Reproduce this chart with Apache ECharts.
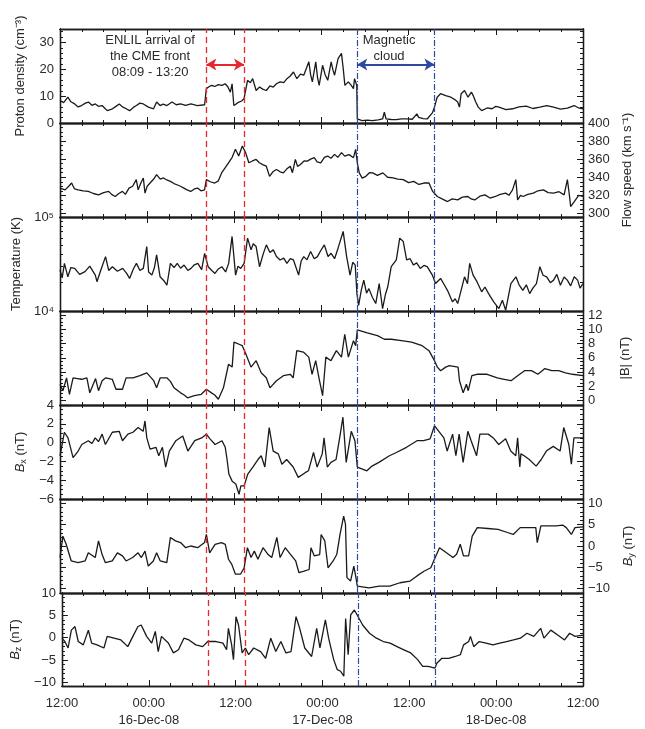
<!DOCTYPE html>
<html>
<head>
<meta charset="utf-8">
<script src="https://cdn.jsdelivr.net/npm/echarts@6/dist/echarts.min.js"></script>
<style>
  html, body { margin: 0; background: #fff; }
  #chart { width: 645px; height: 729px; }
</style>
</head>
<body>
<div id="chart"></div>
<script>
// time in hours since 15-Dec-08 12:00
const timeLabels = ['12:00', '00:00', '12:00', '00:00', '12:00', '00:00', '12:00'];
const dateLabels = ['', '16-Dec-08', '', '17-Dec-08', '', '18-Dec-08', ''];

// ENLIL CME front (08:09, 13:20 on 16-Dec) and magnetic cloud bounds
const enlilTimes = [20.15, 25.33];
const cloudTimes = [40.93, 51.55];

const density = [
  [0, 8.4], [0.5, 7.6], [1.08, 9.6], [1.5, 7.9], [2.02, 7.1], [2.5, 6.0], [2.97, 6.5], [3.5, 7.4], [3.91, 7.8],
  [4.4, 6.6], [4.86, 7.1], [5.3, 6.2], [5.8, 6.5], [6.2, 5.4], [6.51, 4.6], [7.22, 5.3], [7.7, 6.2], [8.16, 7.1],
  [8.6, 6.0], [9.11, 5.3], [9.58, 4.6], [10.1, 5.8], [10.52, 6.5], [11.0, 7.4], [11.47, 7.1], [12.17, 5.9],
  [12.88, 5.3], [13.3, 7.8], [13.78, 6.5], [14.2, 7.0], [14.72, 6.5], [15.43, 7.8], [16.0, 6.8], [16.61, 7.1],
  [17.3, 6.6], [18.03, 7.1], [18.9, 6.5], [19.91, 6.8], [20.15, 12.8], [20.5, 13.5], [20.86, 14], [21.3, 13.6],
  [21.8, 14.3], [22.3, 14.0], [22.75, 14.6], [23.1, 13.5], [23.45, 11.5], [23.69, 14.6], [23.93, 6.5], [24.3, 7.2],
  [24.64, 7.8], [25.0, 8.2], [25.33, 9.0], [25.82, 15.9], [26.2, 15.0], [26.52, 16.5], [27.0, 12.1], [27.47, 13.4],
  [27.9, 12.6], [28.41, 12.1], [28.9, 13.8], [29.36, 13.4], [29.8, 14.6], [30.3, 15.3], [30.8, 15.0], [31.24, 16.5],
  [31.7, 17.5], [32.14, 19], [32.61, 16.5], [33.1, 18.2], [33.56, 17.8], [34.26, 22.8], [34.5, 18.0], [34.74, 15.3],
  [35.21, 22.8], [35.45, 17.0], [35.68, 14], [36.15, 21.5], [36.5, 18.0], [36.86, 15.9], [37.33, 22.8], [37.6, 19.5],
  [37.8, 17.8], [38.28, 24], [38.75, 25.9], [39.0, 20.0], [39.22, 14], [39.69, 15.3], [40.1, 14.0], [40.4, 12.8],
  [40.55, 16.5], [40.85, 14], [40.93, 1.5], [41.58, 0.9], [42.3, 1.1], [43.0, 0.9], [43.8, 1.2], [44.41, 1.5],
  [44.65, 4], [44.89, 1.5], [45.6, 1.3], [46.3, 1.25], [47.0, 1.5], [47.72, 1.5], [48.5, 1.4], [49.13, 3.4],
  [49.37, 2.1], [50.0, 1.6], [50.55, 1.5], [51.26, 3.75], [51.55, 5.9], [51.92, 9.6], [52.39, 10.9], [53.1, 10.2],
  [53.81, 9.6], [54.3, 8.8], [54.75, 7.8], [54.99, 5.9], [55.22, 10.9], [55.69, 12.1], [56.17, 9.6], [56.64, 11.5],
  [56.87, 10.3], [57.2, 8.0], [57.58, 5.9], [58.05, 4.6], [58.8, 5.6], [59.47, 5.3], [60.0, 6.2], [60.42, 5.9],
  [61.4, 5.0], [62.3, 5.3], [63.2, 6.0], [64.19, 6.3], [65.1, 5.4], [66.06, 5.9], [67.0, 6.5], [67.95, 5.9],
  [68.9, 5.2], [69.84, 5.5], [70.79, 6.5], [71.4, 5.6], [72, 5.3]
];

const flowSpeed = [
  [0, 328], [0.7, 326], [1.2, 330], [1.6, 333.6], [2.0, 327], [2.5, 326], [3.2, 325], [3.9, 324.3], [4.6, 322],
  [5.3, 320.5], [6.0, 323], [6.7, 324.3], [7.1, 321], [7.6, 318.7], [8.1, 322], [8.6, 324.3], [9.0, 321], [9.5, 328],
  [10.0, 330], [10.5, 337.3], [10.76, 326], [11.1, 333], [11.47, 339.2], [11.7, 322.4], [12.0, 330], [12.4, 333.6],
  [12.9, 338], [13.3, 342.9], [13.8, 338], [14.25, 339.2], [14.7, 337], [15.2, 335.4], [15.7, 333], [16.1, 331.7],
  [16.6, 330], [17.05, 328], [17.5, 326], [18.0, 324.3], [18.5, 327], [18.95, 328], [19.4, 325], [19.9, 326],
  [20.15, 337.3], [20.7, 335], [21.3, 333.6], [21.8, 336], [22.25, 344.8], [22.7, 350], [23.2, 356], [23.7, 362],
  [24.15, 370.9], [24.6, 363.4], [25.1, 374.6], [25.55, 367.2], [26.0, 356], [26.5, 358], [27.0, 359.7], [27.45, 356],
  [27.9, 354], [28.4, 352.2], [28.85, 341], [29.3, 346], [29.8, 348.5], [30.3, 346], [30.75, 344.8], [31.2, 349],
  [31.7, 352.2], [32.0, 345], [32.4, 359.7], [32.7, 352], [33.1, 354.1], [33.6, 358], [34.05, 357.8], [34.5, 360],
  [35.0, 361.6], [35.4, 357], [35.9, 356], [36.4, 362], [36.85, 363.4], [37.3, 361], [37.8, 365.3], [38.25, 362],
  [38.75, 367.2], [39.2, 363.4], [39.8, 365], [40.4, 361.6], [40.7, 370.9], [40.93, 356], [41.2, 344.8], [41.6, 339],
  [42.1, 341], [42.6, 345], [43.05, 344.8], [43.7, 342], [44.45, 344.8], [45.1, 340], [45.85, 339.2], [46.5, 338],
  [47.25, 337.3], [48.0, 334], [48.7, 335.4], [49.4, 332], [50.1, 333.6], [50.8, 333.6], [51.3, 324.3], [51.95, 318.7],
  [52.6, 316], [53.35, 313.1], [54.0, 316], [54.75, 314.9], [55.4, 318], [56.15, 318.7], [56.6, 316], [57.1, 314.9],
  [57.8, 319], [58.5, 320.5], [59.2, 317], [59.95, 318.7], [60.6, 321], [61.35, 322.4], [61.8, 320], [62.3, 326],
  [62.75, 337.3], [63.0, 314.9], [63.4, 320], [63.75, 318.7], [64.4, 321], [65.15, 322.4], [65.8, 325], [66.55, 326],
  [67.2, 323], [67.95, 322.4], [68.7, 324], [69.4, 320.5], [69.85, 337.3], [70.1, 322], [70.3, 307.5], [70.8, 313.1],
  [71.4, 320], [72, 318.7]
];

const temperature = [
  [0, 27300], [0.3, 22500], [0.61, 32100], [1.08, 23100], [1.5, 29000], [2.02, 28400], [2.7, 24500], [3.44, 26200],
  [4.1, 30000], [4.86, 24100], [5.09, 20500], [5.6, 27000], [6.27, 37900], [6.7, 27000], [7.22, 29600], [7.9, 26500],
  [8.63, 28400], [9.2, 25000], [9.58, 22200], [10.1, 28000], [10.52, 32100], [11.0, 27000], [11.47, 28400],
  [11.94, 48500], [12.2, 26000], [12.65, 24100], [13.0, 29000], [13.3, 39500], [13.78, 23100], [14.3, 21000],
  [14.72, 18800], [15.2, 32100], [15.7, 29000], [16.14, 32100], [16.6, 28500], [17.08, 30800], [17.6, 27000],
  [18.03, 28400], [18.5, 31000], [18.97, 32100], [19.5, 27500], [19.91, 41100], [20.39, 29600], [20.9, 27000],
  [21.33, 25100], [21.8, 28000], [22.27, 29600], [22.8, 26000], [23.22, 32100], [23.69, 62100], [24.17, 24100],
  [24.5, 30000], [24.88, 28400], [25.35, 32100], [25.82, 59600], [26.3, 44700], [26.6, 52000], [27.0, 48500],
  [27.47, 29600], [28.0, 41000], [28.41, 50500], [28.9, 42000], [29.36, 44700], [29.8, 38000], [30.3, 34900],
  [30.8, 36500], [31.24, 32100], [31.7, 36000], [32.14, 34900], [32.85, 24100], [33.2, 34000], [33.56, 37900],
  [34.0, 35000], [34.5, 42900], [35.0, 36000], [35.44, 37900], [35.9, 44000], [36.39, 50500], [36.9, 38000],
  [37.33, 41100], [37.8, 36000], [38.28, 46600], [38.98, 70200], [39.46, 37900], [39.93, 24100], [40.3, 33000],
  [40.64, 30800], [40.88, 15300], [41.11, 11500], [41.5, 17000], [41.82, 21300], [42.2, 15500], [42.53, 17300],
  [43.0, 14000], [43.47, 12000], [43.94, 19600], [44.41, 10600], [44.8, 15000], [45.12, 18100], [45.6, 29600],
  [46.3, 34900], [46.77, 59600], [47.25, 54900], [47.72, 34900], [48.2, 36000], [48.66, 30800], [49.1, 32500],
  [49.6, 28400], [50.1, 30500], [50.55, 29600], [51.26, 24100], [51.7, 19600], [52.39, 22200], [52.9, 19000],
  [53.34, 16600], [54.04, 12500], [54.4, 13500], [54.75, 12000], [55.22, 16600], [55.69, 23100], [56.1, 19500],
  [56.4, 32100], [56.87, 24100], [57.4, 20500], [58.05, 16000], [58.5, 18000], [59.0, 15300], [59.71, 12500],
  [60.42, 10600], [60.9, 13000], [61.36, 10200], [62.07, 19600], [62.77, 23100], [63.2, 19000], [63.72, 16600],
  [64.2, 19000], [64.66, 15300], [65.1, 17500], [65.59, 19600], [66.06, 29600], [66.5, 24000], [67.0, 23100],
  [67.5, 20000], [67.95, 21300], [68.4, 24500], [68.89, 18800], [69.4, 23000], [69.84, 21300], [70.3, 18500],
  [70.79, 23100], [71.26, 21300], [71.6, 17500], [72, 19600]
];

const bMag = [
  [0, 2.3], [0.4, 1.4], [0.9, 3.2], [1.3, 0.9], [1.8, 3.2], [2.4, 3.1], [3.0, 3.0], [3.7, 3.2], [4.1, 1.1],
  [4.9, 3.1], [5.3, 1.4], [5.8, 2.8], [6.3, 3.2], [7.2, 3.0], [7.7, 1.6], [8.6, 1.6], [9.1, 3.2], [10.05, 3.2],
  [11.0, 3.5], [11.95, 3.9], [12.9, 2.8], [13.3, 1.8], [13.8, 3.2], [14.7, 3.2], [15.2, 2.7], [15.7, 1.8],
  [16.6, 1.1], [17.1, 0.8], [17.55, 0.4], [18.5, 0.7], [19.45, 0.9], [20.15, 1.6], [20.85, 1.1], [21.3, 0.8],
  [21.8, 0.2], [22.5, 1.8], [23.2, 5.1], [23.7, 4.7], [23.95, 8.2], [24.65, 7.9], [25.1, 7.7], [25.6, 6.5],
  [26.3, 4.7], [27.0, 5.6], [27.7, 3.9], [28.4, 3.2], [28.9, 1.8], [29.8, 2.8], [30.75, 3.5], [31.7, 3.7],
  [32.1, 3.2], [32.6, 7.0], [33.5, 6.8], [34.25, 6.1], [34.7, 3.7], [35.2, 5.6], [35.65, 3.2], [36.15, 0.7],
  [36.6, 6.1], [37.3, 5.6], [38.05, 7.0], [38.75, 6.1], [39.2, 9.3], [39.7, 6.1], [40.4, 8.4], [40.7, 7.7],
  [40.93, 9.9], [42.3, 9.5], [43.7, 9.1], [44.65, 8.6], [45.6, 8.6], [47.0, 8.4], [48.4, 8.2], [49.85, 7.7],
  [50.8, 7.0], [51.55, 5.6], [51.95, 4.7], [52.4, 4.2], [53.1, 4.7], [53.6, 4.9], [54.8, 4.7], [55.0, 2.8],
  [55.5, 1.1], [55.95, 2.3], [56.2, 1.4], [56.7, 3.5], [57.4, 3.7], [58.8, 3.7], [60.2, 3.2], [61.15, 3.0],
  [62.1, 2.8], [63.0, 3.5], [63.95, 4.2], [64.9, 4.2], [65.8, 3.7], [66.75, 4.5], [67.7, 4.2], [68.65, 4.2],
  [69.6, 3.9], [70.55, 3.7], [72, 3.5]
];

const bx = [
  [0, -1.4], [0.6, 1.1], [1.1, 0.5], [1.8, -1.6], [2.5, -0.9], [3.0, -0.2], [3.9, 0.2], [4.4, -0.1], [4.85, 0.5],
  [5.3, 0.1], [5.8, 0.9], [6.25, -0.2], [7.2, 1.1], [8.15, 1.2], [8.6, 0.2], [9.35, 0.9], [10.05, 1.1],
  [10.75, 1.6], [11.45, 1.2], [11.7, 2.3], [11.95, 0.5], [12.4, -0.7], [13.2, -0.5], [13.6, -1.4], [14.1, -0.5],
  [14.55, -2.6], [15.05, -0.9], [15.95, 0.2], [16.9, 0.7], [17.6, -0.9], [18.55, 0.2], [19.5, 0.5], [20.15, 0.9],
  [20.65, 0.4], [21.35, -0.2], [22.3, 0.2], [22.75, -0.5], [23.0, -1.8], [23.25, -3.35], [23.7, -4.1],
  [24.2, -4.4], [24.65, -5.5], [24.9, -4.6], [25.35, -4.6], [25.85, -3.35], [26.55, -2.6], [27.25, -1.8],
  [27.7, -1.4], [28.2, -2.6], [28.8, 1.6], [29.35, -0.9], [30.05, -1.2], [30.55, -2.3], [31.2, -1.8],
  [32.1, -2.6], [32.8, -3.7], [33.75, -3.2], [34.2, -3.0], [34.9, -1.05], [35.4, -2.6], [36.1, -1.2],
  [36.35, 0.5], [36.8, -2.6], [37.3, -2.1], [38.0, -1.8], [38.5, 0.5], [38.95, 2.7], [39.4, -2.1], [40.1, 1.2],
  [40.6, 0.2], [40.93, -2.6], [41.55, -2.8], [42.25, -3.0], [42.95, -2.5], [43.9, -2.1], [45.35, -1.4],
  [46.3, -1.05], [47.7, -0.5], [49.15, 0.2], [50.05, 0.2], [50.95, 0.4], [51.55, 1.8], [52.15, 1.2],
  [52.85, 0.5], [53.3, -0.9], [54.05, 0.9], [54.5, -1.4], [54.95, 0.9], [55.5, -2.1], [56.15, 1.2], [56.6, 0.2],
  [57.35, -1.4], [57.8, 0.9], [58.95, 0.9], [59.65, 0.5], [60.4, -0.2], [61.35, 0.4], [62.05, -0.9],
  [62.75, -1.4], [63.0, 0.5], [63.3, -2.6], [63.45, -1.2], [63.9, -1.4], [64.6, -1.8], [65.55, -2.5],
  [66.25, -1.8], [66.95, -0.9], [67.9, -0.4], [68.85, -0.9], [69.35, 1.6], [70.05, -0.2], [70.4, -2.3],
  [70.75, 0.5], [72, 0.5]
];

const by = [
  [0, -2.7], [0.4, 2.3], [0.85, 0.4], [1.55, -3.5], [2.5, -3.9], [3.45, -3.5], [3.9, -1.6], [4.15, -2.0],
  [4.85, -2.7], [5.3, 1.2], [5.8, -2.0], [6.25, -3.9], [7.2, -3.5], [7.9, -1.6], [8.6, -2.3], [9.1, -3.5],
  [10.0, -2.7], [10.75, -1.6], [11.2, -2.7], [11.7, -1.2], [12.15, -4.7], [12.85, -3.5], [13.3, -1.6],
  [13.8, -3.5], [14.7, -3.9], [15.2, 2.0], [15.9, 1.2], [16.6, 0.8], [17.3, -0.4], [18.0, 0], [18.95, -0.4],
  [19.9, 0.8], [20.15, 2.7], [20.6, -1.6], [21.35, 0.4], [22.25, 0.8], [22.75, 0.4], [23.2, -3.1], [23.65, -4.3],
  [24.15, -6.6], [24.85, -6.6], [25.35, -5.1], [25.8, -0.4], [26.3, -2.7], [26.75, -1.2], [27.25, -3.1],
  [27.95, -0.4], [28.65, -2.0], [29.15, -2.7], [29.85, 2.0], [30.3, -2.7], [31.0, -0.4], [31.75, -2.0],
  [32.45, -3.5], [32.9, -6.25], [33.6, -5.9], [34.3, -5.5], [34.55, -0.4], [35.0, -2.3], [35.75, -2.0],
  [35.95, 2.7], [36.45, 1.2], [36.9, -5.1], [37.6, -3.5], [38.1, -2.0], [38.55, 2.7], [39.05, 7.0], [39.3, 5.1],
  [39.5, -7.4], [40.0, -8.2], [40.45, -4.7], [40.7, -7.0], [40.93, -9.4], [42.55, -9.8], [43.95, -9.4],
  [45.4, -9.4], [46.8, -8.6], [48.2, -8.2], [49.15, -7.0], [50.1, -5.9], [51.05, -5.1], [51.55, -3.1],
  [52.25, -0.4], [53.2, -1.6], [54.1, -2.7], [54.6, -1.95], [55.1, 0.4], [55.55, -2.3], [56.25, -2.3],
  [56.5, 0], [56.75, 2.3], [57.45, 4.3], [58.9, 4.1], [60.3, 3.9], [61.7, 3.1], [62.4, 2.7], [63.35, 4.3],
  [64.55, 4.3], [65.5, 4.3], [65.7, 0.8], [66.2, 4.7], [67.35, 4.7], [68.3, 4.7], [69.2, 4.9], [69.7, 4.3],
  [70.4, 2.7], [70.9, 4.3], [72, 4.5]
];

const bz = [
  [0, -0.1], [0.4, -0.85], [0.85, -2.3], [1.3, 1.7], [1.8, 2.5], [2.25, -0.85], [2.95, -1.6], [3.65, 1.7],
  [4.1, -1.2], [4.85, -1.6], [5.8, -2.3], [6.25, 0.3], [7.2, -0.1], [8.15, -0.5], [9.1, -2.0], [9.8, 0.3],
  [10.5, 2.5], [10.95, 2.85], [11.7, 0.3], [12.4, -1.2], [12.9, 1.4], [13.3, -3.1], [13.75, 0.3], [14.7, -1.2],
  [15.4, -3.4], [16.1, -2.7], [16.85, -0.1], [17.55, -0.5], [18.5, -1.6], [19.45, -2.0], [20.15, -0.85],
  [21.3, -0.85], [22.25, -1.2], [22.75, -2.7], [23.0, 2.1], [23.45, -1.6], [23.7, -4.9], [24.05, 4.7],
  [24.4, 2.85], [24.9, -3.4], [25.35, -2.3], [25.8, -3.8], [26.5, -2.3], [27.45, -3.1], [28.15, -4.6],
  [28.85, -0.1], [29.55, -3.1], [30.25, -0.85], [30.95, -3.4], [31.65, -3.1], [32.35, 4.7], [32.85, 2.1],
  [33.55, -2.3], [34.5, -4.2], [35.2, 2.1], [35.65, -2.3], [36.4, 4.0], [36.85, -0.1], [37.55, -4.9],
  [38.05, -7.15], [38.5, -7.5], [38.95, -8.6], [39.2, 4.3], [39.55, -3.8], [39.9, 5.1], [40.4, 6.2],
  [40.93, 4.7], [41.55, 2.85], [42.5, 1.0], [43.45, -0.1], [44.4, -0.85], [45.35, -1.2], [46.3, -2.0],
  [47.25, -2.7], [48.2, -3.4], [49.15, -4.9], [49.85, -6.4], [50.6, -6.4], [51.55, -6.8], [51.8, -5.7],
  [52.5, -4.6], [53.45, -4.6], [54.35, -4.2], [55.05, -3.8], [55.5, -1.6], [56.2, -0.85], [56.45, 0.3],
  [56.9, -2.0], [57.65, -0.85], [58.6, -1.2], [59.55, -1.6], [60.5, -1.2], [61.45, -0.85], [62.4, -0.5],
  [63.35, -0.1], [64.25, 1.0], [65.2, 0.3], [66.15, 2.1], [66.6, -0.1], [67.55, 1.7], [68.5, 0.6],
  [69.45, -0.5], [70.15, 1.0], [70.9, 0.3], [72, 0.6]
];

function ticks(a, b, step) {
  const out = [];
  for (let v = a; v <= b + 1e-9; v += step) out.push(Math.round(v * 100) / 100);
  return out;
}

const panels = [
  { data: density, min: 0, max: 35, major: [0, 10, 20, 30], minor: ticks(0, 34, 2),
    side: 'left', name: 'Proton density (cm⁻³)', gap: 33 },
  { data: flowSpeed, min: 296, max: 400, major: ticks(300, 400, 20), minor: ticks(300, 400, 5),
    side: 'right', name: 'Flow speed (km s⁻¹)', gap: 36 },
  { data: temperature, log: true, min: 1e4, max: 1e5, major: [1e4, 1e5],
    minor: [2e4, 3e4, 4e4, 5e4, 6e4, 7e4, 8e4, 9e4], side: 'left', name: 'Temperature (K)', gap: 33 },
  { data: bMag, min: -0.6, max: 12.55, major: ticks(0, 12, 2), minor: ticks(0, 12.5, 0.5),
    side: 'right', name: '|B| (nT)', gap: 36 },
  { data: bx, min: -6, max: 4, major: ticks(-6, 4, 2), minor: ticks(-6, 4, 0.5),
    side: 'left', name: '{i|B}{s|x}{n| (nT)}', gap: 30 },
  { data: by, min: -11, max: 11, major: ticks(-10, 10, 5), minor: ticks(-11, 11, 1),
    side: 'right', name: '{i|B}{s|y}{n| (nT)}', gap: 34 },
  { data: bz, min: -10.8, max: 10, major: ticks(-10, 10, 5), minor: ticks(-10, 10, 1),
    side: 'left', name: '{i|B}{s|z}{n| (nT)}', gap: 30 }
];

const FONT = '"Liberation Sans", Arial, sans-serif';
const INK = '#1a1a1a';
const TEXT = '#2a2a2a';
const RED = '#e8262b';
const BLUE = '#2b4aa0';
const LEFT = 60, WIDTH = 523, TOP = 29, H = 94;
const MAJOR_LEN = 6, MINOR_LEN = 3;

const nameRich = {
  i: { fontStyle: 'italic', fontSize: 13, color: TEXT, fontFamily: FONT, verticalAlign: 'top', lineHeight: 14 },
  s: { fontSize: 9, color: TEXT, fontFamily: FONT, verticalAlign: 'bottom', lineHeight: 10, padding: [6, 0, 0, 0] },
  n: { fontSize: 13, color: TEXT, fontFamily: FONT, verticalAlign: 'top', lineHeight: 14 }
};

function fmtNum(v, log) {
  if (log) {
    const e = Math.round(Math.log10(v));
    return '10' + (e === 4 ? '⁴' : '⁵');
  }
  return String(Math.round(v)).replace('-', '−');
}

const grids = [], xAxes = [], yAxes = [], series = [];
const yIndexOf = [];

panels.forEach((p, i) => {
  grids.push({ left: LEFT, width: WIDTH, top: TOP + i * H, height: H });

  // x: major (12 h) and minor (3 h) tick axes at bottom and top; ticks take the axis line style
  const xBase = xAxes.length;
  ['bottom', 'top'].forEach(pos => {
    [12, 3].forEach(step => {
      xAxes.push({
        type: 'value', gridIndex: i, position: pos, min: 0, max: 72, interval: step,
        axisLine: { show: true, onZero: false, lineStyle: { color: INK, width: 1.3 } },
        axisTick: { show: true, inside: true, length: step === 12 ? MAJOR_LEN : MINOR_LEN },
        splitLine: { show: false },
        axisLabel: {
          show: pos === 'bottom' && step === 12 && i === panels.length - 1,
          showMinLabel: true, showMaxLabel: true,
          margin: 9, fontSize: 13, lineHeight: 17, color: TEXT, fontFamily: FONT,
          formatter: v => {
            const k = Math.round(v / 12);
            return dateLabels[k] ? timeLabels[k] + '\n' + dateLabels[k] : timeLabels[k];
          }
        }
      });
    });
  });

  // y: major and minor tick axes on both sides
  ['left', 'right'].forEach(side => {
    [true, false].forEach(isMajor => {
      const labelled = isMajor && side === p.side;
      if (labelled) yIndexOf[i] = yAxes.length;
      yAxes.push({
        type: p.log ? 'log' : 'value', gridIndex: i, position: side,
        min: p.min, max: p.max,
        axisLine: { show: true, onZero: false, lineStyle: { color: INK, width: 1.3 } },
        splitLine: { show: false },
        axisTick: {
          show: true, inside: true, length: isMajor ? MAJOR_LEN : MINOR_LEN,
          customValues: isMajor ? p.major : p.minor
        },
        axisLabel: {
          show: labelled, customValues: p.major, margin: side === 'left' ? 6 : 5,
          fontSize: 13, color: TEXT, fontFamily: FONT,
          formatter: v => fmtNum(v, p.log)
        },
        name: labelled ? p.name : '',
        nameLocation: 'middle', nameRotate: 90, nameGap: p.gap,
        nameTextStyle: { fontSize: 13, color: TEXT, fontFamily: FONT, rich: nameRich }
      });
    });
  });

  const vlines = [
    ...enlilTimes.map(t => ({ xAxis: t, lineStyle: { color: RED, type: [6, 4], width: 1.3 } })),
    ...cloudTimes.map(t => ({ xAxis: t, lineStyle: { color: BLUE, type: [6, 2, 1, 2], width: 1.2 } }))
  ];

  const s = {
    type: 'line', xAxisIndex: xBase, yAxisIndex: yIndexOf[i], data: p.data,
    showSymbol: false, symbol: 'none',
    lineStyle: { color: INK, width: 1.3 },
    markLine: { silent: true, symbol: 'none', label: { show: false }, data: vlines }
  };

  if (i === 0) {
    s.markLine.data.push(
      [{ coord: [enlilTimes[0], 21.8], symbol: 'arrow' }, { coord: [enlilTimes[1], 21.8], symbol: 'arrow' }],
      [{ coord: [cloudTimes[0], 21.8], symbol: 'arrow' }, { coord: [cloudTimes[1], 21.8], symbol: 'arrow' }]
    );
    s.markLine.symbolSize = [9, 10];
    s.markLine.data[4].forEach(d => { d.lineStyle = { color: RED, type: 'solid', width: 2 }; });
    s.markLine.data[5].forEach(d => { d.lineStyle = { color: BLUE, type: 'solid', width: 2 }; });
    s.markPoint = {
      silent: true, symbol: 'circle', symbolSize: 1, itemStyle: { color: 'rgba(0,0,0,0)' },
      label: { show: true, position: 'inside', fontSize: 13, lineHeight: 16, color: TEXT, fontFamily: FONT, align: 'center' },
      data: [
        { coord: [12.4, 24.9], label: { formatter: 'ENLIL arrival of\nthe CME front\n08:09 - 13:20' } },
        { coord: [45.3, 27.8], label: { formatter: 'Magnetic\ncloud' } }
      ]
    };
  }
  series.push(s);
});

const chart = echarts.init(document.getElementById('chart'));
chart.setOption({
  animation: false,
  backgroundColor: '#fff',
  grid: grids,
  xAxis: xAxes,
  yAxis: yAxes,
  series: series
});
</script>
</body>
</html>
